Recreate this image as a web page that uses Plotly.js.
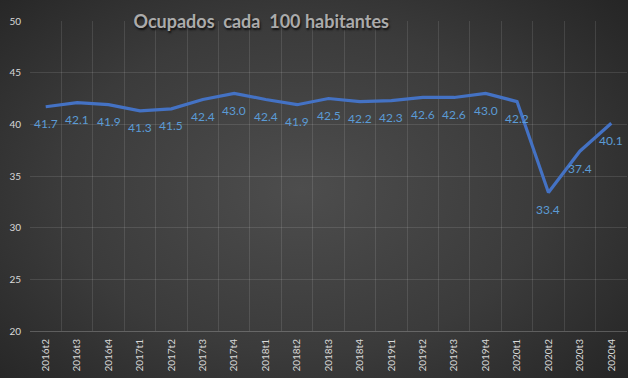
<!DOCTYPE html>
<html>
<head>
<meta charset="utf-8">
<script src="https://cdn.plot.ly/plotly-3.0.1.min.js"></script>
<style>
  html, body { margin: 0; padding: 0; }
  #chart {
    width: 628px; height: 378px;
    background: radial-gradient(ellipse 70% 78% at 48% 50%, #4d4d4d 0%, #3b3b3b 55%, #242424 100%);
  }
</style>
</head>
<body>
<div id="chart"></div>
<script>
const categories = ["2016t2","2016t3","2016t4","2017t1","2017t2","2017t3","2017t4","2018t1","2018t2","2018t3","2018t4","2019t1","2019t2","2019t3","2019t4","2020t1","2020t2","2020t3","2020t4"];
const ocupados = [41.7, 42.1, 41.9, 41.3, 41.5, 42.4, 43.0, 42.4, 41.9, 42.5, 42.2, 42.3, 42.6, 42.6, 43.0, 42.2, 33.4, 37.4, 40.1];
const yTicks = [20, 25, 30, 35, 40, 45, 50];

const fontFam = 'Lato, "Open Sans", sans-serif';

const trace = {
  x: categories,
  y: ocupados,
  type: 'scatter',
  mode: 'lines',
  line: { color: '#4472c4', width: 3.2 },
  hoverinfo: 'skip'
};

const labels = categories.map((c, i) => ({
  x: c, y: ocupados[i],
  xref: 'x', yref: 'y',
  text: ocupados[i].toFixed(1),
  showarrow: false,
  yshift: -17,
  font: { family: fontFam, size: 12, color: '#5b9bd5' }
}));

const layout = {
  width: 628, height: 378,
  margin: { l: 30, r: 1, t: 21, b: 47 },
  paper_bgcolor: 'rgba(0,0,0,0)',
  plot_bgcolor: 'rgba(0,0,0,0)',
  showlegend: false,
  annotations: labels,
  title: {
    text: '<b>Ocupados&nbsp; cada&nbsp; 100 habitantes</b>',
    x: 0.416, xanchor: 'center',
    y: 0.942, yanchor: 'middle',
    xref: 'container',
    yref: 'container',
    font: { family: fontFam, size: 18, color: '#ababab', shadow: '1px 2px 2px #111' }
  },
  xaxis: {
    type: 'category',
    range: [-0.5, categories.length - 0.5],
    tickson: 'boundaries',
    ticks: '',
    tickangle: -90,
    showgrid: true,
    gridcolor: 'rgba(255,255,255,0.11)',
    showline: true,
    linecolor: 'rgba(255,255,255,0.22)',
    linewidth: 1,
    ticklabelstandoff: 3,
    tickfont: { family: fontFam, size: 10, color: '#d9d9d9' },
    fixedrange: true
  },
  yaxis: {
    range: [20, 50],
    tickvals: yTicks,
    ticktext: yTicks.map(String),
    showgrid: true,
    gridcolor: 'rgba(255,255,255,0.11)',
    zeroline: false,
    showline: false,
    ticks: '',
    ticklabelstandoff: 8,
    tickfont: { family: fontFam, size: 10, color: '#d9d9d9' },
    fixedrange: true
  }
};

Plotly.newPlot('chart', [trace], layout, { displayModeBar: false, staticPlot: true });
</script>
</body>
</html>
